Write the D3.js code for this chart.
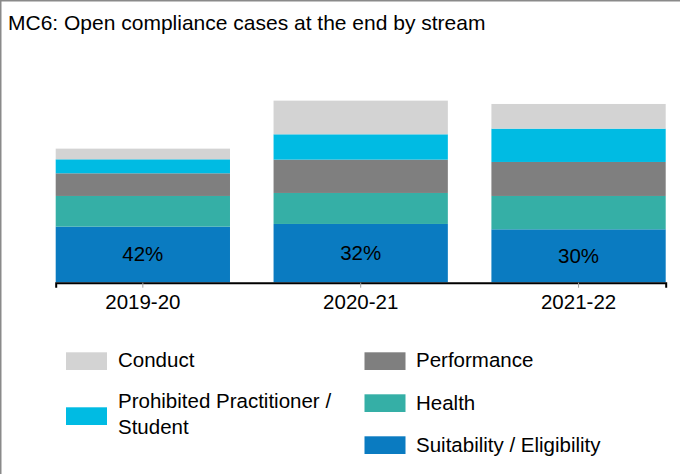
<!DOCTYPE html>
<html>
<head>
<meta charset="utf-8">
<script src="https://cdn.jsdelivr.net/npm/d3@7/dist/d3.min.js"></script>
<style>
  html, body { margin: 0; padding: 0; background: #fff; }
  svg { display: block; font-family: "Liberation Sans", Arial, sans-serif; }
</style>
</head>
<body>
<svg id="chart" width="680" height="474"></svg>
<script>
// Open compliance cases at year end, by stream
const years = ["2019-20", "2020-21", "2021-22"];
const streams = ["Suitability / Eligibility", "Health", "Performance", "Prohibited Practitioner / Student", "Conduct"];
const suitability = [167, 175, 159];
const health = [92, 93, 100];
const performance = [68, 100, 102];
const prohibited = [42, 76, 100];
const conduct = [32, 101, 74];
const colors = ["#0a7bc1", "#35afa6", "#7f7f7f", "#00bbe3", "#d3d3d3"];

const seriesValues = [suitability, health, performance, prohibited, conduct];
const table = years.map((y, i) => {
  const row = { year: y };
  streams.forEach((s, k) => { row[s] = seriesValues[k][i]; });
  return row;
});

const svg = d3.select("#chart");

// Frame edges
svg.append("line").attr("x1", 0.75).attr("x2", 0.75).attr("y1", 0).attr("y2", 474)
  .attr("stroke", "#8a8a8a").attr("stroke-width", 1.5);
svg.append("line").attr("x1", 0).attr("x2", 680).attr("y1", 0.75).attr("y2", 0.75)
  .attr("stroke", "#8a8a8a").attr("stroke-width", 1.5);

// Title
svg.append("text").attr("x", 8).attr("y", 30)
  .attr("font-size", 21).attr("fill", "#000")
  .text("MC6: Open compliance cases at the end by stream");

const x = d3.scaleBand().domain(years).range([55.7, 665.7]).paddingInner(0.2).paddingOuter(0);
const y = d3.scaleLinear().domain([0, 600]).range([282.3, 82.3]);

const stacked = d3.stack().keys(streams)(table);

svg.append("g").selectAll("g")
  .data(stacked)
  .join("g")
  .attr("fill", (d, i) => colors[i])
  .selectAll("rect")
  .data(d => d)
  .join("rect")
  .attr("x", d => x(d.data.year))
  .attr("width", x.bandwidth())
  .attr("y", d => y(d[1]))
  .attr("height", d => y(d[0]) - y(d[1]));

// Share of suitability / eligibility cases in each year
const bottom = stacked[0];
svg.append("g").selectAll("text")
  .data(bottom)
  .join("text")
  .attr("x", d => x(d.data.year) + x.bandwidth() / 2)
  .attr("y", d => (y(d[0]) + y(d[1])) / 2 + 7)
  .attr("text-anchor", "middle")
  .attr("font-size", 20.5)
  .attr("fill", "#000")
  .text(d => {
    const total = d3.sum(streams, s => d.data[s]);
    return Math.round(100 * d.data[streams[0]] / total) + "%";
  });

// Category axis
const axis = svg.append("g")
  .attr("transform", "translate(0,282.7)")
  .call(d3.axisBottom(x).tickSizeOuter(0).tickSize(5).tickPadding(7));
axis.select(".domain").attr("stroke", "#000").attr("stroke-width", 2);
axis.selectAll(".tick line").attr("stroke", "#a0a0a0").attr("stroke-width", 1);
axis.selectAll(".tick text")
  .attr("font-size", 20.5).attr("fill", "#000")
  .attr("font-family", "'Liberation Sans', Arial, sans-serif");

// Legend
const legendItems = [
  { key: "Conduct", lines: ["Conduct"], sx: 66, sy: 352.3, tx: 118, ty: 367.3 },
  { key: "Prohibited Practitioner / Student", lines: ["Prohibited Practitioner /", "Student"], sx: 66, sy: 407.3, tx: 118, ty: 408.3 },
  { key: "Performance", lines: ["Performance"], sx: 364.5, sy: 352.3, tx: 416, ty: 367.3 },
  { key: "Health", lines: ["Health"], sx: 364.5, sy: 394.3, tx: 416, ty: 409.8 },
  { key: "Suitability / Eligibility", lines: ["Suitability / Eligibility"], sx: 364.5, sy: 436.3, tx: 416, ty: 451.5 }
];

const legend = svg.append("g");
legendItems.forEach(item => {
  legend.append("rect")
    .attr("x", item.sx).attr("y", item.sy)
    .attr("width", 41).attr("height", 17.7)
    .attr("fill", colors[streams.indexOf(item.key)]);
  const t = legend.append("text")
    .attr("x", item.tx).attr("y", item.ty)
    .attr("font-size", 20.5).attr("fill", "#000");
  item.lines.forEach((ln, i) => {
    t.append("tspan").attr("x", item.tx).attr("dy", i === 0 ? 0 : 26).text(ln);
  });
});
</script>
</body>
</html>
